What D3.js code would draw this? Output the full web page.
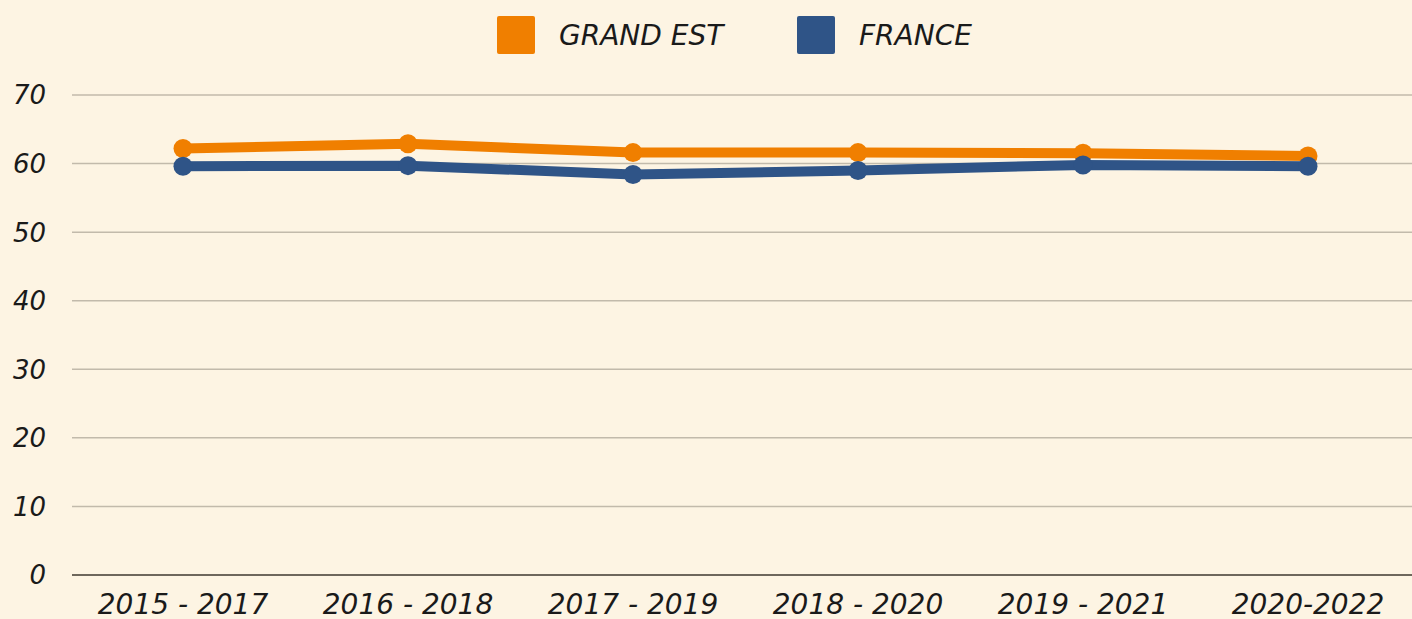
<!DOCTYPE html>
<html>
<head>
<meta charset="utf-8">
<script src="https://cdn.jsdelivr.net/npm/d3@7"></script>
<style>
  html, body { margin: 0; padding: 0; background: #fdf4e3; }
  svg { display: block; font-family: "DejaVu Sans", sans-serif; font-style: italic; }
</style>
</head>
<body>
<svg id="chart" width="1412" height="619"></svg>
<script>
const periods = ['2015 - 2017', '2016 - 2018', '2017 - 2019', '2018 - 2020', '2019 - 2021', '2020-2022'];
const grandEst = [62.2, 62.9, 61.6, 61.6, 61.5, 61.1];
const france = [59.6, 59.7, 58.4, 59.0, 59.8, 59.6];
const yTicks = [0, 10, 20, 30, 40, 50, 60, 70];

const series = [
  { name: 'GRAND EST', values: grandEst, color: '#f07f00' },
  { name: 'FRANCE', values: france, color: '#2f5487' }
];

const width = 1412, height = 619;
const svg = d3.select('#chart');

const x = d3.scalePoint().domain(periods).range([183, 1308]);
const y = d3.scaleLinear().domain([0, 70]).range([575, 95]);

// grid
svg.append('g')
  .selectAll('line')
  .data(yTicks)
  .join('line')
  .attr('x1', 72)
  .attr('x2', width)
  .attr('y1', d => y(d))
  .attr('y2', d => y(d))
  .attr('stroke', d => d === 0 ? '#6e675c' : '#c2baab')
  .attr('stroke-width', d => d === 0 ? 2 : 1.5);

// y labels
svg.append('g')
  .selectAll('text')
  .data(yTicks)
  .join('text')
  .attr('x', 46)
  .attr('y', d => y(d))
  .attr('dy', '0.36em')
  .attr('text-anchor', 'end')
  .attr('font-size', 26)
  .attr('fill', '#1a1a1a')
  .text(d => d);

// x labels
svg.append('g')
  .selectAll('text')
  .data(periods)
  .join('text')
  .attr('x', d => x(d))
  .attr('y', 614)
  .attr('text-anchor', 'middle')
  .attr('font-size', 28)
  .attr('fill', '#1a1a1a')
  .text(d => d);

const line = d3.line()
  .x((d, i) => x(periods[i]))
  .y(d => y(d));

series.forEach(s => {
  svg.append('path')
    .datum(s.values)
    .attr('fill', 'none')
    .attr('stroke', s.color)
    .attr('stroke-width', 10)
    .attr('d', line);

  svg.append('g')
    .selectAll('circle')
    .data(s.values)
    .join('circle')
    .attr('cx', (d, i) => x(periods[i]))
    .attr('cy', d => y(d))
    .attr('r', 9.5)
    .attr('fill', s.color);
});

// legend
const legend = svg.append('g');
const legendX = [497, 797];
series.forEach((s, i) => {
  legend.append('rect')
    .attr('x', legendX[i])
    .attr('y', 16)
    .attr('width', 38)
    .attr('height', 38)
    .attr('rx', 2)
    .attr('fill', s.color);
  legend.append('text')
    .attr('x', legendX[i] + 62)
    .attr('y', 35)
    .attr('dy', '0.36em')
    .attr('font-size', 28)
    .attr('fill', '#1a1a1a')
    .text(s.name);
});
</script>
</body>
</html>
